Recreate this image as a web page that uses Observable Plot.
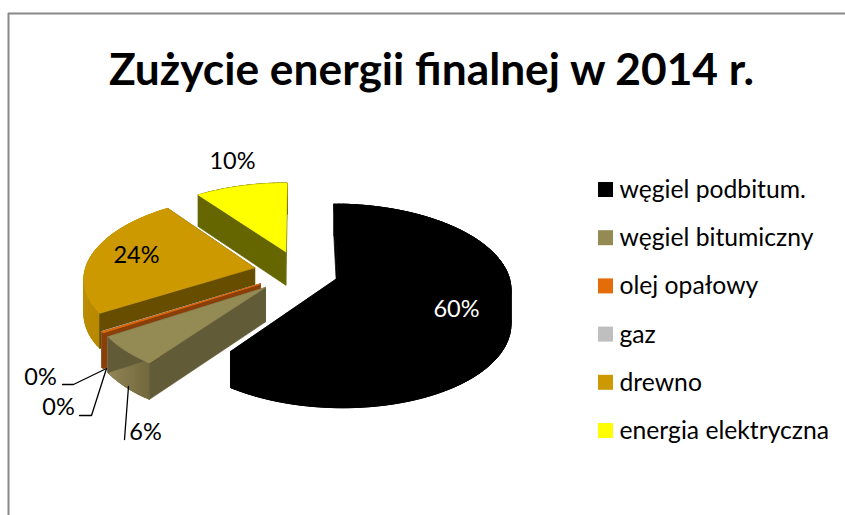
<!DOCTYPE html>
<html>
<head>
<meta charset="utf-8">
<script src="https://cdn.jsdelivr.net/npm/d3@7"></script>
<script src="https://cdn.jsdelivr.net/npm/@observablehq/plot@0.6"></script>
<style>
  html, body { margin: 0; padding: 0; background: #fff; }
  svg { display: block; }
</style>
</head>
<body>
<div id="chart"></div>
<script>
// ---- data ----
const titleText = "Zużycie energii finalnej w 2014 r.";
const categories = ["węgiel podbitum.", "węgiel bitumiczny", "olej opałowy", "gaz", "drewno", "energia elektryczna"];
const shares = [60.0, 5.8, 0.2, 0.05, 24.0, 9.95];

// ---- styles per category ----
const topColors  = ["#000000", "#948A54", "#E46C0A", "#BFBFBF", "#CC9900", "#FFFF00"];
const faceColors = ["#000000", "#625B38", "#8A3F08", "#7F7F7F", "#664D00", "#666600"];
const wallFrom   = ["#000000", "#94895A", "#A34A08", "#A0A0A0", "#C89600", "#666600"];
const wallTo     = ["#000000", "#746A3E", "#A34A08", "#A0A0A0", "#B88A00", "#666600"];
const explode    = [0.235, 0.27, 0.27, 0.27, 0.27, 0.27];
const drawOrder  = [5, 0, 4, 3, 2, 1];

// ---- 3D view of the pie ----
const view = {cx: 299, cy: 271.5, R: 170, s: 81, k: 0.114, depth: 34, depthK: 0.07};
function project(u, v, z) {
  const w = 1 + view.k * v;
  return {x: view.cx + view.R * u / w, y: view.cy - view.s * v / w + z * view.depth / (1 + view.depthK * v)};
}

const total = d3.sum(shares);
const cum = d3.cumsum(shares);
const slices = categories.map((name, i) => {
  const a0 = (i ? cum[i - 1] : 0) / total * 2 * Math.PI;
  const a1 = cum[i] / total * 2 * Math.PI;
  const mid = (a0 + a1) / 2;
  return {i, a0, a1, ox: explode[i] * Math.sin(mid), oy: explode[i] * Math.cos(mid)};
});

const polys = [];
function addPoly(id, fill, pts) {
  [...pts, pts[0]].forEach(p => polys.push({id, fill, x: p.x, y: p.y}));
}
for (const i of drawOrder) {
  const sl = slices[i];
  const rim = (a, z) => project(sl.ox + Math.sin(a), sl.oy + Math.cos(a), z);
  const apex = z => project(sl.ox, sl.oy, z);
  const steps = Math.max(2, Math.ceil((sl.a1 - sl.a0) / 0.03));
  const angles = d3.range(steps + 1).map(t => sl.a0 + (sl.a1 - sl.a0) * t / steps);
  // outer wall, shaded in overlapping strips so no seams show
  const shade = d3.interpolateRgb(wallTo[i], wallFrom[i]);
  for (let t = 0; t < steps; t++) {
    const a = angles[t], b = angles[t + 1], c = angles[Math.min(t + 3, steps)];
    addPoly(`w-${i}-${t}`, d3.color(shade(t / steps)).formatHex(),
      [rim(a, 0), rim(b, 0), rim(c, 0), rim(c, 1), rim(b, 1), rim(a, 1)]);
  }
  // cut faces
  addPoly(`f1-${i}`, faceColors[i], [apex(0), rim(sl.a1, 0), rim(sl.a1, 1), apex(1)]);
  addPoly(`f0-${i}`, faceColors[i], [apex(0), rim(sl.a0, 0), rim(sl.a0, 1), apex(1)]);
  // top surface
  addPoly(`t-${i}`, topColors[i], [apex(0), ...angles.map(a => rim(a, 0))]);
}

// ---- labels & legend layout ----
const fmt = v => `${Math.round(v)}%`;
const labelPos = [[456, 309, "#fff"], [145, 432, "#000"], [40, 377, "#000"], [58, 407, "#000"], [136, 255, "#000"], [232, 161, "#000"]];
const labels = shares.map((v, i) => ({text: fmt(v), x: labelPos[i][0], y: labelPos[i][1], c: labelPos[i][2]}));
const legendRows = categories.map((name, i) => ({name, color: topColors[i], y: 189.5 + i * 48.2}));
const leaders = [
  [[62, 384], [73, 384], [106, 368]],
  [[79, 415], [91, 415], [106, 368]],
  [[124, 439], [128, 386]]
].flatMap((l, id) => l.map(([x, y]) => ({id, x, y})));
const FONT = "Lato, Carlito, Calibri, sans-serif";

const plot = Plot.plot({
  width: 845,
  height: 515,
  margin: 0,
  style: {background: "#fff", fontFamily: FONT},
  x: {domain: [0, 845], range: [0, 845], axis: null},
  y: {domain: [0, 515], range: [0, 515], axis: null},
  color: {type: "identity"},
  marks: [
    Plot.ruleY([13], {x1: 8, x2: 845, stroke: "#898989", strokeWidth: 2}),
    Plot.ruleX([8], {y1: 13, y2: 515, stroke: "#898989", strokeWidth: 2}),
    Plot.text([titleText], {x: 431, y: 70, text: d => d, fontSize: 44.3, fontWeight: 700, fill: "#000", lineAnchor: "middle"}),
    Plot.line(polys, {x: "x", y: "y", z: "id", fill: "fill", stroke: "fill", strokeWidth: 0.7, curve: "linear"}),
    Plot.line(leaders, {x: "x", y: "y", z: "id", stroke: "#000", strokeWidth: 1.3, fill: "none", curve: "linear"}),
    Plot.text(labels, {x: "x", y: "y", text: "text", fill: "c", fontSize: 23.5, lineAnchor: "middle", textAnchor: "middle"}),
    Plot.rect(legendRows, {x1: () => 598, x2: () => 613, y1: d => d.y - 7.5, y2: d => d.y + 7.5, fill: "color"}),
    Plot.text(legendRows, {x: 619, y: "y", text: "name", fontSize: 24.7, fill: "#000", textAnchor: "start", lineAnchor: "middle"})
  ]
});
document.getElementById("chart").appendChild(plot);
</script>
</body>
</html>
